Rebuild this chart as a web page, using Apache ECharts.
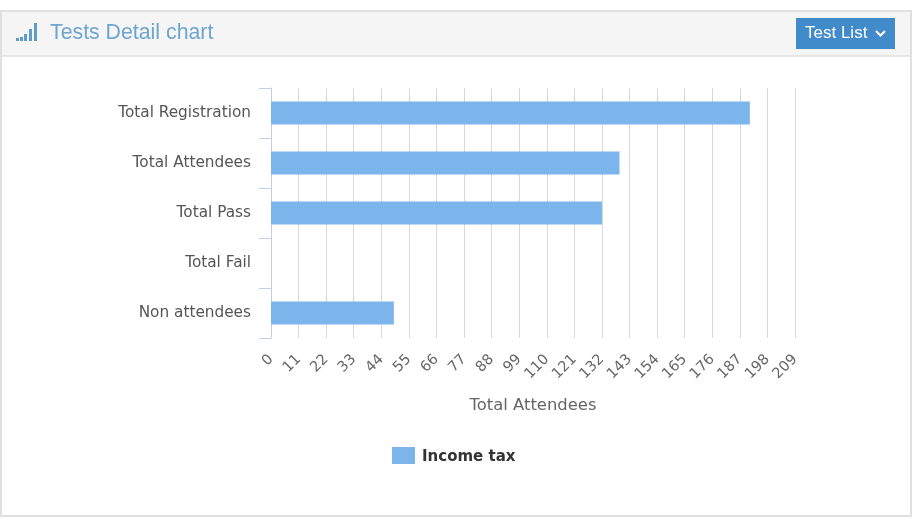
<!DOCTYPE html>
<html><head><meta charset="utf-8">
<style>html,body{margin:0;padding:0;background:#fff}#c{width:913px;height:520px}</style>
<script src="https://cdn.jsdelivr.net/npm/echarts@6/dist/echarts.min.js"></script>
</head><body><div id="c"></div>
<script>
const categories = ['Total Registration','Total Attendees','Total Pass','Total Fail','Non attendees'];
const values = [191,139,132,0,49];
const seriesName = 'Income tax';
const axisTitle = 'Total Attendees';
const chartTitle = 'Tests Detail chart';
const buttonLabel = 'Test List';
const FONT = '"DejaVu Sans", sans-serif';
const chart = echarts.init(document.getElementById('c'), null, {renderer:'canvas'});
const iconBars = [[16,38,3,3],[20,37,3,4],[24,34,3,7],[29,29,3,12],[34,23,3,18]];
chart.setOption({
  animation:false,
  backgroundColor:'#fff',
  title:{text:chartTitle,left:45,top:18,textStyle:{color:'#6ea5cf',fontFamily:'"Liberation Sans",sans-serif',fontSize:21.3,fontWeight:'normal'}},
  graphic:[
    {type:'rect',z:-10,shape:{x:1,y:11,width:910,height:505},style:{fill:'#fff',stroke:'#e0e0e0',lineWidth:2}},
    {type:'rect',z:-9,shape:{x:2,y:12,width:908,height:44},style:{fill:'#f5f5f5'}},
    {type:'rect',z:-9,shape:{x:2,y:55,width:908,height:2},style:{fill:'#e6e6e6'}},
    ...iconBars.map(b=>({type:'rect',shape:{x:b[0],y:b[1],width:b[2],height:b[3]},style:{fill:'#5f9ccb'}})),
    {type:'rect',shape:{x:796,y:18,width:99,height:31},style:{fill:'#428bca'}},
    {type:'text',left:805,top:25,style:{text:buttonLabel,fill:'#fff',font:'17px "Liberation Sans",sans-serif'}},
    {type:'polyline',shape:{points:[[876,31],[880.5,35.5],[885,31]]},style:{stroke:'#fff',lineWidth:2,fill:null}}
  ],
  grid:{left:271,top:88,width:524,height:250,containLabel:false},
  legend:{left:392,top:447,itemWidth:23,itemHeight:17,itemGap:0,icon:'rect',
    formatter:'{t|{name}}',
    textStyle:{rich:{t:{color:'#333',fontFamily:FONT,fontSize:15,fontWeight:'bold',padding:[4,0,0,2]}}},padding:0,data:[seriesName]},
  xAxis:{type:'value',min:0,max:209,interval:11,
    name:axisTitle,nameLocation:'middle',nameGap:60,
    nameTextStyle:{color:'#666',fontFamily:FONT,fontSize:16.4},
    axisLine:{show:false},axisTick:{show:false},
    axisLabel:{rotate:45,margin:19,color:'#666',fontFamily:FONT,fontSize:14.5,hideOverlap:false,showMinLabel:true,showMaxLabel:true},
    splitLine:{show:true,lineStyle:{color:'#d8d8d8',width:1}}
  },
  yAxis:{type:'category',inverse:true,data:categories,
    axisLine:{show:true,lineStyle:{color:'#c0d0e0',width:1}},
    axisTick:{show:true,length:12,alignWithLabel:false,lineStyle:{color:'#c0d0e0'}},
    axisLabel:{margin:20,color:'#555',fontFamily:FONT,fontSize:15.3,padding:[0,0,2,0]},
    splitLine:{show:false}
  },
  series:[{name:seriesName,type:'bar',data:values,barWidth:23,itemStyle:{color:'#7cb5ec'}}]
});
</script></body></html>
